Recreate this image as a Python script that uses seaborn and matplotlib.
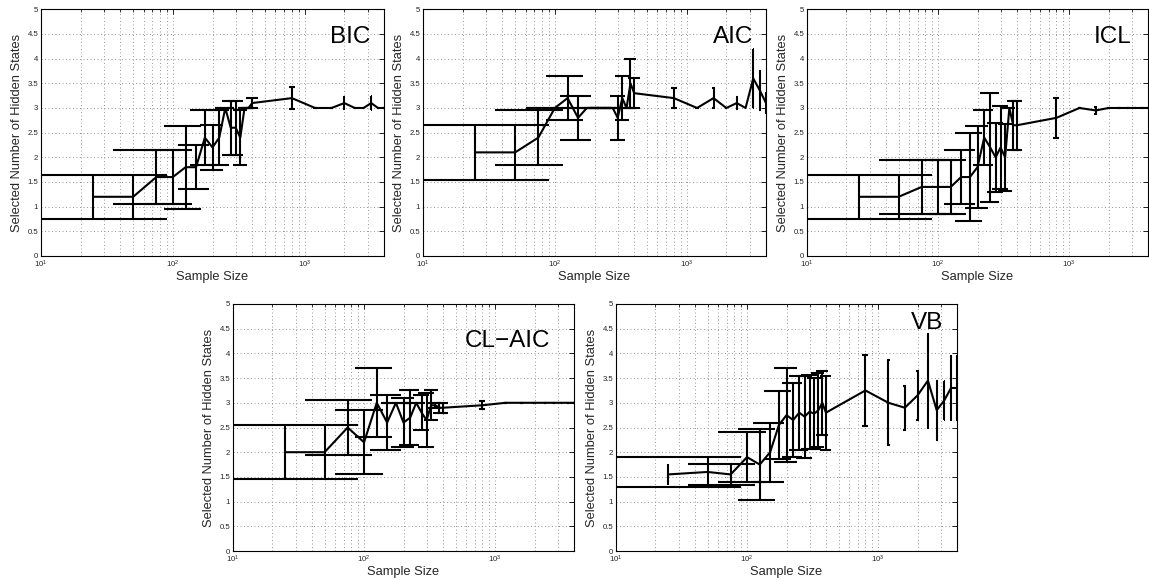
import numpy as np
import matplotlib
matplotlib.use("Agg")
import matplotlib.pyplot as plt
from matplotlib.ticker import FuncFormatter, LogLocator, NullFormatter
import seaborn as sns

# sample sizes shared by every criterion
sample_sizes = [25, 50, 75, 100, 125, 150, 175, 200, 225, 250, 275, 300, 325, 350, 375, 400,
                800, 1200, 1600, 2000, 2400, 2800, 3200, 3600, 4000]

bic_mean = [1.2, 1.2, 1.6, 1.6, 1.8, 1.8, 2.4, 2.2, 2.4, 3.0, 2.6, 2.6, 2.4, 3.0, 3.0, 3.1,
            3.2, 3.0, 3.0, 3.1, 3.0, 3.0, 3.1, 3.0, 3.0]
bic_err = [0.45, 0.45, 0.55, 0.55, 0.84, 0.45, 0.55, 0.45, 0.55, 0.0, 0.55, 0.55, 0.55, 0.0, 0.0, 0.1,
           0.23, 0.0, 0.0, 0.12, 0.0, 0.0, 0.15, 0.0, 0.0]

aic_mean = [2.1, 2.1, 2.4, 3.0, 3.2, 2.8, 3.0, 3.0, 3.0, 3.0, 3.0, 2.8, 3.2, 3.0, 3.5, 3.3,
            3.2, 3.0, 3.2, 3.0, 3.1, 3.0, 3.6, 3.35, 3.1]
aic_err = [0.55, 0.55, 0.55, 0.0, 0.45, 0.45, 0.0, 0.0, 0.0, 0.0, 0.0, 0.45, 0.45, 0.0, 0.5, 0.3,
           0.21, 0.0, 0.2, 0.0, 0.13, 0.0, 0.6, 0.4, 0.2]

icl_mean = [1.2, 1.2, 1.4, 1.4, 1.4, 1.6, 1.6, 1.8, 2.4, 2.2, 2.0, 2.2, 2.0, 3.0, 2.65, 2.65,
            2.8, 3.0, 2.95, 3.0, 3.0, 3.0, 3.0, 3.0, 3.0]
icl_err = [0.45, 0.45, 0.55, 0.55, 0.55, 0.55, 0.9, 0.83, 0.55, 1.1, 0.7, 0.85, 0.68, 0.0, 0.5, 0.5,
           0.4, 0.0, 0.07, 0.0, 0.0, 0.0, 0.0, 0.0, 0.0]

claic_mean = [2.0, 2.0, 2.5, 2.2, 3.0, 2.6, 3.0, 2.6, 2.7, 3.0, 2.8, 2.65, 2.95, 2.95, 2.9, 2.9,
              2.95, 3.0, 3.0, 3.0, 3.0, 3.0, 3.0, 3.0, 3.0]
claic_err = [0.55, 0.55, 0.55, 0.65, 0.7, 0.55, 0.0, 0.5, 0.55, 0.0, 0.35, 0.55, 0.3, 0.05, 0.1, 0.1,
             0.08, 0.0, 0.0, 0.0, 0.0, 0.0, 0.0, 0.0, 0.0]

vb_mean = [1.55, 1.6, 1.55, 1.9, 1.75, 2.0, 2.55, 2.75, 2.65, 2.8, 2.72, 2.82, 2.78, 2.85, 3.0, 2.8,
           3.25, 3.0, 2.9, 3.15, 3.45, 2.85, 3.05, 3.3, 3.3]
vb_err = [0.22, 0.3, 0.22, 0.5, 0.72, 0.6, 0.68, 0.95, 0.75, 0.75, 0.83, 0.75, 0.72, 0.75, 0.65, 0.75,
          0.72, 0.86, 0.45, 0.5, 0.95, 0.6, 0.4, 0.65, 0.65]

y_ticks = [0, 0.5, 1, 1.5, 2, 2.5, 3, 3.5, 4, 4.5, 5]

sns.set_theme(style="white")
plt.rcParams["font.family"] = ["Liberation Sans", "DejaVu Sans"]
plt.rcParams["mathtext.fontset"] = "custom"
plt.rcParams["mathtext.rm"] = "Liberation Sans"
plt.rcParams["mathtext.it"] = "Liberation Sans:italic"
plt.rcParams["mathtext.bf"] = "Liberation Sans:bold"

W, H = 1149, 580
LW = 1.5
GRID = dict(color="0.6", linestyle=(0, (1, 2.6)), linewidth=0.7)


def draw_panel(ax, mean, err, name, label_xy):
    x = np.asarray(sample_sizes, dtype=float)
    mean = np.asarray(mean, dtype=float)
    err = np.asarray(err, dtype=float)
    ax.set_xscale("log")

    # matlab style error bars: tee width is 1/100 of the x range in data units
    tee = (x.max() - x.min()) / 100
    lo, hi = mean - err, mean + err
    ax.vlines(x, lo, hi, color="black", linewidth=LW)
    ok = x - tee > 0  # segments through x<=0 are dropped on a log axis
    ax.hlines(lo[ok], x[ok] - tee, x[ok] + tee, color="black", linewidth=LW)
    ax.hlines(hi[ok], x[ok] - tee, x[ok] + tee, color="black", linewidth=LW)
    sns.lineplot(x=x, y=mean, ax=ax, color="black", linewidth=LW, errorbar=None, sort=False)

    ax.set_xlim(10, 4000)
    ax.set_ylim(0, 5)
    ax.xaxis.set_major_locator(LogLocator(base=10, numticks=10))
    ax.xaxis.set_minor_locator(LogLocator(base=10, subs=np.arange(2, 10), numticks=20))
    ax.xaxis.set_minor_formatter(NullFormatter())
    ax.set_yticks(y_ticks)
    ax.yaxis.set_major_formatter(FuncFormatter(lambda v, p: f"{v:g}"))

    ax.grid(True, which="major", axis="both", **GRID)
    ax.grid(True, which="minor", axis="x", **GRID)
    ax.set_axisbelow(True)

    ax.tick_params(which="both", direction="in", top=True, right=True,
                   labelsize=5.6, pad=2, color="black")
    ax.tick_params(which="major", length=3.5, width=0.6)
    ax.tick_params(which="minor", length=1.8, width=0.5)
    for s in ax.spines.values():
        s.set_color("black")
        s.set_linewidth(0.8)

    ax.set_xlabel("Sample Size", fontsize=9.3, labelpad=1)
    ax.set_ylabel("Selected Number of Hidden States", fontsize=9.3, labelpad=3)
    ax.text(label_xy[0], label_xy[1], name, transform=ax.transAxes,
            ha="right", va="baseline", fontsize=17.5, color="black")


# (left, top, right, bottom) in pixels, and label anchor in axes fraction
panels = [
    (bic_mean, bic_err, "BIC", (41, 9.3, 384, 256), (0.959, 0.864)),
    (aic_mean, aic_err, "AIC", (423, 9.3, 766, 256), (0.962, 0.865)),
    (icl_mean, icl_err, "ICL", (807, 9.3, 1148, 256), (0.953, 0.862)),
    (claic_mean, claic_err, "CL\u2212AIC", (233, 304, 574, 551), (0.929, 0.827)),
    (vb_mean, vb_err, "VB", (616, 304, 957, 551), (0.960, 0.900)),
]

fig = plt.figure(figsize=(W / 100, H / 100), dpi=100)
fig.patch.set_facecolor("white")
for mean, err, name, (l, t, r, b), lxy in panels:
    ax = fig.add_axes([l / W, 1 - b / H, (r - l) / W, (b - t) / H])
    draw_panel(ax, mean, err, name, lxy)

fig.savefig("out.png", dpi=100)
plt.close(fig)
